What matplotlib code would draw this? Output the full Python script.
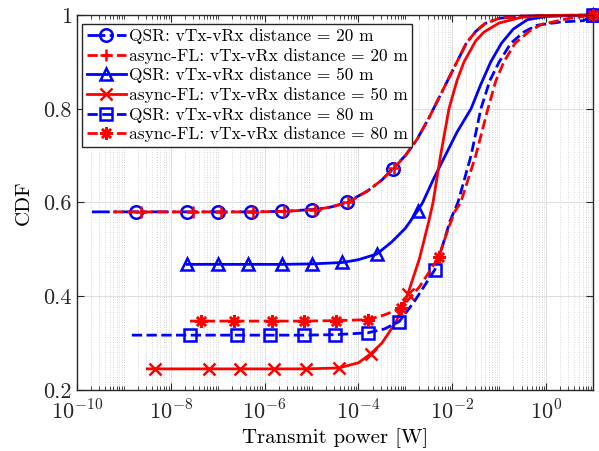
import numpy as np
import matplotlib
matplotlib.use("Agg")
import matplotlib.pyplot as plt
from matplotlib.ticker import LogLocator, NullFormatter

plt.rcParams["font.family"] = ["cmr10", "DejaVu Serif"]
plt.rcParams["mathtext.fontset"] = "cm"
plt.rcParams["axes.formatter.use_mathtext"] = True
plt.rcParams["axes.unicode_minus"] = False

# log10(transmit power) and CDF values
qsr20_x = [-9.68, -8.74, -7.65, -6.99, -6.30, -5.64, -4.98, -4.6, -4.25, -3.8, -3.5, -3.27,
           -3.0, -2.75, -2.5, -2.3, -2.1, -1.9, -1.7, -1.5, -1.3, -1.0, -0.5, 1.0]
qsr20_y = [0.58, 0.58, 0.58, 0.58, 0.58, 0.581, 0.585, 0.59, 0.60, 0.625, 0.648, 0.672,
           0.70, 0.735, 0.78, 0.82, 0.86, 0.90, 0.94, 0.965, 0.982, 0.993, 0.998, 1.0]
qsr20_mark = [1, 2, 3, 4, 5, 6, 8, 11, 23]

afl20_x = [-9.23, -8.63, -7.52, -6.92, -6.24, -5.58, -4.92, -4.6, -4.22, -3.8, -3.5, -3.25,
           -3.0, -2.75, -2.5, -2.3, -2.1, -1.9, -1.7, -1.5, -1.3, -1.0, -0.5, 1.0]
afl20_y = [0.58, 0.58, 0.58, 0.58, 0.58, 0.581, 0.585, 0.59, 0.60, 0.625, 0.648, 0.673,
           0.70, 0.735, 0.78, 0.82, 0.86, 0.90, 0.94, 0.965, 0.982, 0.993, 0.998, 1.0]
afl20_mark = [1, 2, 3, 4, 5, 6, 8, 11, 23]

qsr50_x = [-7.65, -6.99, -6.35, -5.64, -5.0, -4.34, -4.0, -3.61, -3.3, -3.0, -2.74, -2.63,
           -2.4, -2.15, -1.9, -1.6, -1.4, -1.18, -0.95, -0.7, -0.4, 0.0, 1.0]
qsr50_y = [0.468, 0.468, 0.468, 0.468, 0.469, 0.472, 0.478, 0.49, 0.515, 0.545, 0.582, 0.60,
           0.65, 0.70, 0.75, 0.80, 0.85, 0.90, 0.94, 0.97, 0.99, 0.997, 1.0]
qsr50_mark = [0, 1, 2, 3, 4, 5, 7, 10, 22]

afl50_x = [-8.5, -8.33, -7.18, -6.52, -5.81, -5.11, -4.42, -4.0, -3.74, -3.5, -3.2, -2.95,
           -2.7, -2.5, -2.41, -2.25, -2.07, -1.9, -1.75, -1.5, -1.32, -1.0, -0.53, 0.0, 1.0]
afl50_y = [0.245, 0.245, 0.245, 0.245, 0.245, 0.245, 0.247, 0.258, 0.277, 0.30, 0.345, 0.404,
           0.48, 0.56, 0.60, 0.70, 0.80, 0.86, 0.90, 0.945, 0.964, 0.983, 0.995, 0.999, 1.0]
afl50_mark = [1, 2, 3, 4, 5, 6, 8, 11, 24]

qsr80_x = [-8.83, -7.59, -6.58, -5.88, -5.17, -4.49, -3.80, -3.45, -3.13, -2.8, -2.37, -2.2,
           -2.05, -1.88, -1.6, -1.39, -1.2, -1.0, -0.75, -0.47, -0.2, 0.3, 0.8, 1.0]
qsr80_y = [0.317, 0.317, 0.317, 0.317, 0.317, 0.318, 0.322, 0.33, 0.346, 0.39, 0.457, 0.51,
           0.56, 0.60, 0.70, 0.80, 0.86, 0.90, 0.94, 0.964, 0.978, 0.985, 0.988, 1.0]
qsr80_mark = [1, 2, 3, 4, 5, 6, 8, 10, 23]

afl80_x = [-7.59, -7.35, -6.65, -5.85, -5.15, -4.47, -3.80, -3.45, -3.10, -2.7, -2.29, -2.1,
           -1.95, -1.82, -1.5, -1.24, -1.07, -0.9, -0.66, -0.36, -0.1, 0.5, 1.0]
afl80_y = [0.347, 0.347, 0.347, 0.347, 0.347, 0.348, 0.35, 0.36, 0.374, 0.42, 0.483, 0.54,
           0.58, 0.60, 0.70, 0.80, 0.86, 0.90, 0.94, 0.965, 0.98, 0.993, 1.0]
afl80_mark = [1, 2, 3, 4, 5, 6, 8, 10, 22]

labels = [
    "QSR: vTx-vRx distance = 20 m",
    "async-FL: vTx-vRx distance = 20 m",
    "QSR: vTx-vRx distance = 50 m",
    "async-FL: vTx-vRx distance = 50 m",
    "QSR: vTx-vRx distance = 80 m",
    "async-FL: vTx-vRx distance = 80 m",
]

xtick_vals = [1e-10, 1e-8, 1e-6, 1e-4, 1e-2, 1e0]
xtick_labels = [r"$10^{-10}$", r"$10^{-8}$", r"$10^{-6}$", r"$10^{-4}$", r"$10^{-2}$", r"$10^{0}$"]
ytick_vals = [0.2, 0.4, 0.6, 0.8, 1.0]
ytick_labels = ["0.2", "0.4", "0.6", "0.8", "1"]

fig = plt.figure(figsize=(5.99, 4.51), dpi=100)
ax = fig.add_axes([0.1285, 0.1353, 0.8615, 0.8314])

series = [
    (qsr20_x, qsr20_y, qsr20_mark, "b", "-.", "o", "none"),
    (afl20_x, afl20_y, afl20_mark, "r", "--", "+", "r"),
    (qsr50_x, qsr50_y, qsr50_mark, "b", "-", "^", "none"),
    (afl50_x, afl50_y, afl50_mark, "r", "-", "x", "r"),
    (qsr80_x, qsr80_y, qsr80_mark, "b", "--", "s", "none"),
    (afl80_x, afl80_y, afl80_mark, "r", "--", (8, 2, 0), "r"),
]

for (lx, y, mk, c, ls, m, fc), lab in zip(series, labels):
    ax.plot(10.0 ** np.array(lx), y, color=c, ls=ls, lw=2, marker=m, markevery=mk,
            markersize=9, markerfacecolor=fc, markeredgecolor=c, markeredgewidth=1.8,
            label=lab, clip_on=False)

ax.set_xscale("log")
ax.set_xlim(1e-10, 1e1)
ax.set_ylim(0.2, 1.0)
ax.set_xticks(xtick_vals, xtick_labels)
ax.xaxis.set_minor_locator(LogLocator(base=10, subs=np.arange(1, 10), numticks=100))
ax.xaxis.set_minor_formatter(NullFormatter())
ax.set_yticks(ytick_vals, ytick_labels)

ax.grid(True, which="major", color="#dedede", lw=0.7, ls="-")
ax.grid(True, which="minor", axis="x", color="#c8c8c8", lw=0.6, ls=(0, (1, 2)))
ax.set_axisbelow(True)

ax.tick_params(which="both", direction="in", top=True, right=True, labelsize=16, colors="#262626")
ax.tick_params(which="major", length=5)
ax.tick_params(which="minor", length=3)
ax.tick_params(axis="x", pad=7)
for sp in ax.spines.values():
    sp.set_color("#262626")
    sp.set_linewidth(1)

ax.set_xlabel("Transmit power [W]", fontsize=15, labelpad=3)
ax.set_ylabel("CDF", fontsize=15, labelpad=8)

leg = ax.legend(loc="upper left", bbox_to_anchor=(0.0, 0.99), fontsize=12.5, fancybox=False,
                framealpha=1, edgecolor="#262626", borderpad=0.25, labelspacing=0.22,
                handlelength=2.3, handletextpad=0.15, borderaxespad=0.3)
leg.get_frame().set_linewidth(1)

fig.savefig("out.png", dpi=100)
